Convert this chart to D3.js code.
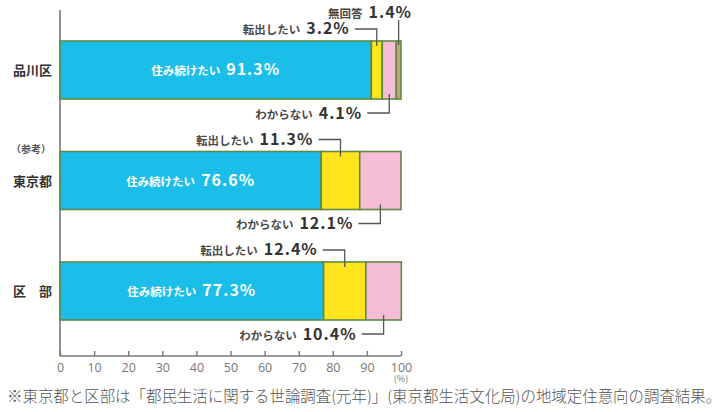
<!DOCTYPE html>
<html><head><meta charset="utf-8">
<script src="https://cdn.jsdelivr.net/npm/d3@7"></script>
<style>
html,body{margin:0;padding:0;background:#fff;}
svg{display:block;font-family:"Noto Sans CJK JP","Noto Sans",sans-serif;}
</style></head>
<body><svg id="c" width="720" height="412"></svg>
<script>
const categories = ["品川区", "東京都", "区部"];
const categoryLabels = ["品川区", "東京都", "区　部"];
const stayValues = [91.3, 76.6, 77.3];
const moveValues = [3.2, 11.3, 12.4];
const unknownValues = [4.1, 12.1, 10.4];
const noAnswerValues = [1.4, 0, 0];
const seriesNames = ["住み続けたい", "転出したい", "わからない", "無回答"];
const xTicks = [0, 10, 20, 30, 40, 50, 60, 70, 80, 90, 100];
const footnote = "※東京都と区部は「都民生活に関する世論調査(元年)」(東京都生活文化局)の地域定住意向の調査結果。";

const colors = ["#1bbde9", "#ffe41e", "#f6bdd7", "#b7a97c"];
const svg = d3.select("#c");
const x = d3.scaleLinear().domain([0, 100]).range([60, 401]);
const y = d3.scaleBand().domain(categories).range([18.9, 342.1]).paddingInner(0.475).paddingOuter(0.2);

const rows = categories.map((c, i) => {
  const vals = [stayValues[i], moveValues[i], unknownValues[i], noAnswerValues[i]];
  let acc = 0;
  return {cat: c, segs: vals.map((v, k) => { const s = {k, v, x0: acc, x1: acc + v}; acc += v; return s; })};
});

// axes
const axisG = svg.append("g").attr("transform", "translate(0,356)")
  .call(d3.axisBottom(x).tickValues(xTicks).tickSize(-5).tickPadding(7));
axisG.select(".domain").attr("stroke", "#777").attr("stroke-width", 1.6).attr("d", "M60,0H401");
axisG.selectAll(".tick line").attr("stroke", "#777").attr("stroke-width", 1.4);
axisG.selectAll(".tick text").attr("fill", "#777").attr("font-size", 12.5)
  .attr("font-family", "'Open Sans','Noto Sans',sans-serif");
svg.append("line").attr("x1", 60).attr("x2", 60).attr("y1", 10).attr("y2", 356)
  .attr("stroke", "#777").attr("stroke-width", 1.6);
svg.append("text").attr("x", x(100)).attr("y", 382).attr("text-anchor", "middle")
  .attr("fill", "#777").attr("font-size", 9).text("(%)");

// bars
const bars = svg.append("g").selectAll("g").data(rows).join("g");
bars.selectAll("rect").data(d => d.segs.filter(s => s.v > 0).map(s => ({...s, cat: d.cat}))).join("rect")
  .attr("x", s => x(s.x0)).attr("width", s => x(s.x1) - x(s.x0))
  .attr("y", s => y(s.cat)).attr("height", y.bandwidth())
  .attr("fill", s => colors[s.k]).attr("stroke", "#5f8a45").attr("stroke-width", 1.6);

// category labels
bars.append("text").attr("x", 13).attr("y", d => y(d.cat) + y.bandwidth() / 2 + 5)
  .attr("font-size", 13).attr("font-weight", 700).attr("fill", "#333")
  .text((d, i) => categoryLabels[i]);
svg.append("text").attr("x", 11).attr("y", y("東京都") + 2).attr("font-size", 10)
  .attr("font-weight", 700).attr("fill", "#555").text("（参考）");

// inside labels
bars.append("text").attr("x", d => (x(d.segs[0].x0) + x(d.segs[0].x1)) / 2)
  .attr("y", d => y(d.cat) + y.bandwidth() / 2 + 5).attr("text-anchor", "middle").attr("fill", "#fff")
  .call(t => {
    t.append("tspan").attr("font-size", 11.5).attr("font-weight", 700).text(seriesNames[0]);
    t.append("tspan").attr("dx", 6).attr("font-size", 16).attr("font-weight", 700).attr("letter-spacing", 1)
      .text((d, i) => stayValues[i].toFixed(1) + "%");
  });

// callouts
function labelText(t, k, v) {
  t.append("tspan").attr("font-size", 11.5).attr("font-weight", 700).attr("fill", "#4a4a4a").text(seriesNames[k]);
  t.append("tspan").attr("dx", 6).attr("font-size", 16).attr("font-weight", 700).attr("letter-spacing", 1).text(v.toFixed(1) + "%");
}
function callout(row, k, pos, dx) {
  const s = row.segs[k];
  const cx = (x(s.x0) + x(s.x1)) / 2;
  const top = y(row.cat), bot = top + y.bandwidth();
  const ly = pos === "above" ? top - 12 : bot + 14;
  const g = svg.append("g");
  if (pos === "top") {
    g.append("path").attr("d", `M${cx},${20}V${top + 4}`).attr("fill", "none").attr("stroke", "#555").attr("stroke-width", 1.3);
    const t = g.append("text").attr("x", 412).attr("y", 17.5).attr("text-anchor", "end").attr("fill", "#333");
    labelText(t, k, s.v);
    return;
  }
  const endX = cx - dx;
  g.append("path").attr("d", pos === "above" ? `M${endX + 5},${ly}H${cx}V${top + 5}` : `M${endX + 5},${ly}H${cx}V${bot - 5}`)
    .attr("fill", "none").attr("stroke", "#555").attr("stroke-width", 1.3);
  const t = g.append("text").attr("x", endX).attr("y", ly + 5.5).attr("text-anchor", "end").attr("fill", "#333");
  labelText(t, k, s.v);
}
rows.forEach(r => {
  callout(r, 1, "above", 27);
  callout(r, 2, "below", 27);
  if (r.segs[3].v > 0) callout(r, 3, "top", 0);
});

// footnote
svg.append("text").attr("x", 7).attr("y", 402).attr("font-size", 15.45).attr("font-weight", 300)
  .attr("fill", "#555").text(footnote);
</script></body></html>
